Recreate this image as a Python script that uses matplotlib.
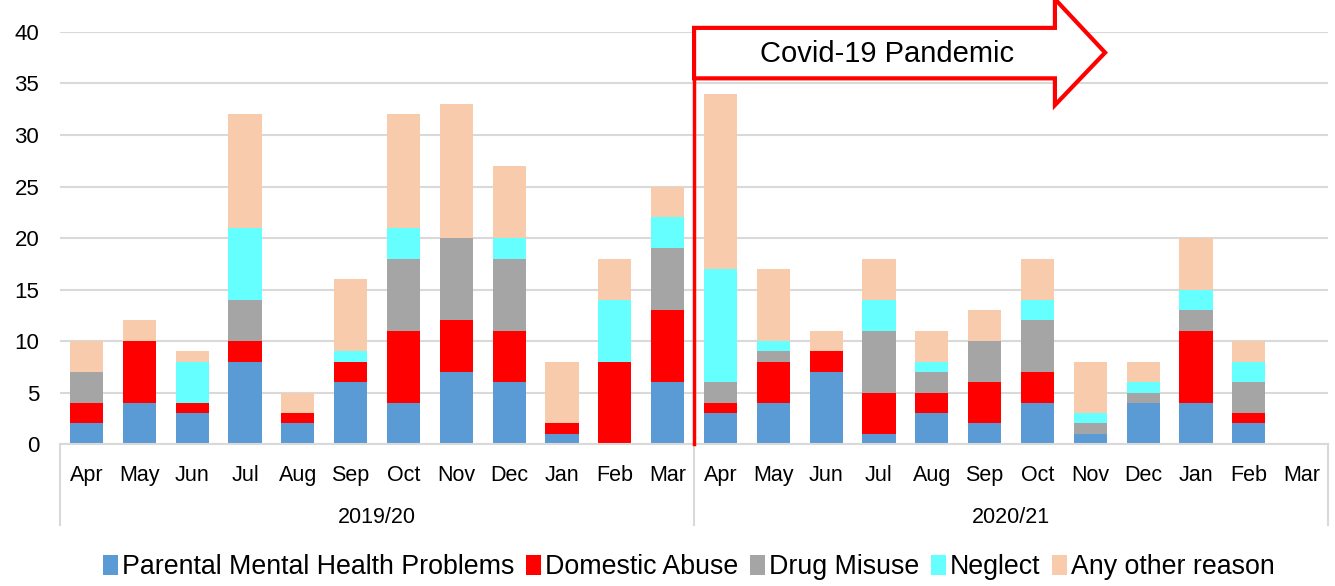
import numpy as np
import matplotlib.pyplot as plt
from matplotlib.patches import Polygon, Patch

plt.rcParams['font.family'] = ['Liberation Sans', 'DejaVu Sans']

months = ['Apr', 'May', 'Jun', 'Jul', 'Aug', 'Sep', 'Oct', 'Nov', 'Dec', 'Jan', 'Feb', 'Mar'] * 2
years = ['2019/20', '2020/21']

# counts per month, 2019/20 then 2020/21 (Mar 2021 has no data)
mental_health = [2, 4, 3, 8, 2, 6, 4, 7, 6, 1, 0, 6,
                 3, 4, 7, 1, 3, 2, 4, 1, 4, 4, 2, 0]
domestic_abuse = [2, 6, 1, 2, 1, 2, 7, 5, 5, 1, 8, 7,
                  1, 4, 2, 4, 2, 4, 3, 0, 0, 7, 1, 0]
drug_misuse = [3, 0, 0, 4, 0, 0, 7, 8, 7, 0, 0, 6,
               2, 1, 0, 6, 2, 4, 5, 1, 1, 2, 3, 0]
neglect = [0, 0, 4, 7, 0, 1, 3, 0, 2, 0, 6, 3,
           11, 1, 0, 3, 1, 0, 2, 1, 1, 2, 2, 0]
other = [3, 2, 1, 11, 2, 7, 11, 13, 7, 6, 4, 3,
         17, 7, 2, 4, 3, 3, 4, 5, 2, 5, 2, 0]

series = [
    ('Parental Mental Health Problems', mental_health, '#5B9BD5'),
    ('Domestic Abuse', domestic_abuse, '#FF0000'),
    ('Drug Misuse', drug_misuse, '#A5A5A5'),
    ('Neglect', neglect, '#66FFFF'),
    ('Any other reason', other, '#F8CBAD'),
]

fig = plt.figure(figsize=(13.35, 5.86), dpi=100)
ax = fig.add_axes([0.045, 0.2423, 0.9498, 0.7031])

x = np.arange(len(months))
bottom = np.zeros(len(months))
for name, vals, col in series:
    ax.bar(x, vals, width=0.63, bottom=bottom, color=col, zorder=2)
    bottom += np.array(vals)

ax.set_xlim(-0.5, len(months) - 0.5)
ax.set_ylim(0, 40)
ax.set_yticks(range(0, 41, 5))
ax.tick_params(axis='y', length=0, labelsize=16, pad=15)
ax.yaxis.grid(True, color='#D9D9D9', linewidth=1.5, zorder=0)
ax.set_axisbelow(True)
for s in ['top', 'right', 'left']:
    ax.spines[s].set_visible(False)
ax.spines['bottom'].set_color('#D9D9D9')
ax.spines['bottom'].set_linewidth(1.5)

# two-level category axis
ax.set_xticks(x)
ax.set_xticklabels(months, fontsize=15.5)
ax.tick_params(axis='x', length=0, pad=15)
trans = ax.get_xaxis_transform()
for xs in [-0.5, 11.5, 23.5]:
    ax.plot([xs, xs], [0, -0.197], transform=trans, color='#D9D9D9', lw=1.5, clip_on=False)
for i, yr in enumerate(years):
    ax.text(5.5 + 12 * i, -0.178, yr, transform=trans, ha='center', va='center', fontsize=15.5)

# pandemic marker
ax.plot([11.5, 11.5], [0, 40.4], color='red', lw=2.5, clip_on=False, zorder=4)
arrow = Polygon([(11.5, 40.4), (18.33, 40.4), (18.33, 43.2), (19.28, 38.0),
                 (18.33, 32.9), (18.33, 35.5), (11.5, 35.5)],
                closed=True, facecolor='white', edgecolor='red', lw=3,
                clip_on=False, zorder=5)
ax.add_patch(arrow)
ax.text(15.15, 37.9, 'Covid-19 Pandemic', ha='center', va='center', fontsize=21, zorder=6)

handles = [Patch(facecolor=c, label=n) for n, v, c in series]
fig.legend(handles=handles, loc='center', bbox_to_anchor=(0.516, 0.032), ncol=5,
           frameon=False, fontsize=19.3, handlelength=0.55, handleheight=0.75,
           handletextpad=0.15, columnspacing=0.45)

fig.savefig('out.png', dpi=100)
